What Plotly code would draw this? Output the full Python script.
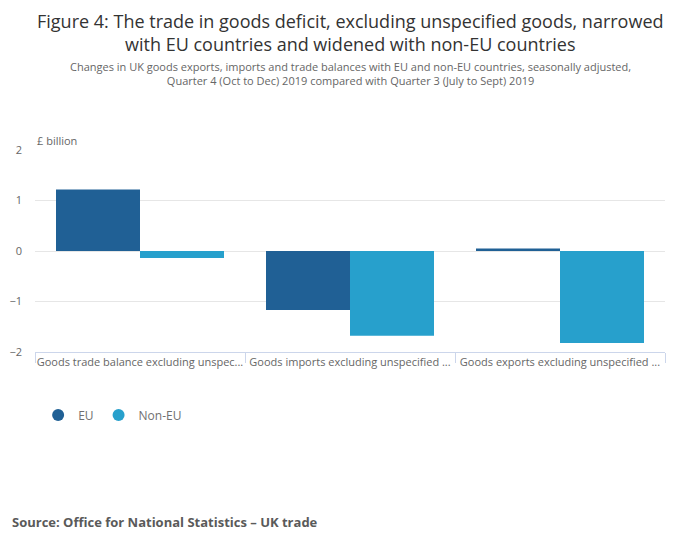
import plotly.graph_objects as go

categories = [
    "Goods trade balance excluding unspec...",
    "Goods imports excluding unspecified ...",
    "Goods exports excluding unspecified ...",
]
eu_values = [1.22, -1.17, 0.05]
non_eu_values = [-0.14, -1.68, -1.82]
y_ticks = [-2, -1, 0, 1, 2]

eu_colour = "#206095"
non_eu_colour = "#27a0cc"
grey = "#707070"
font = "Open Sans"

fig = go.Figure()

fig.add_trace(go.Bar(x=categories, y=eu_values, name="EU",
                     marker=dict(color=eu_colour, line=dict(width=0)),
                     showlegend=False))
fig.add_trace(go.Bar(x=categories, y=non_eu_values, name="Non-EU",
                     marker=dict(color=non_eu_colour, line=dict(width=0)),
                     showlegend=False))

# legend entries as round markers
for name, col in [("EU", eu_colour), ("Non-EU", non_eu_colour)]:
    fig.add_trace(go.Scatter(x=[None], y=[None], mode="markers", name=name,
                             marker=dict(color=col, size=12, symbol="circle")))

fig.update_layout(
    width=700, height=549,
    margin=dict(l=27, r=43, t=142, b=205),
    paper_bgcolor="white", plot_bgcolor="white",
    font=dict(family=font, color=grey, size=11),
    barmode="group", bargap=0.2, bargroupgap=0,
    legend=dict(orientation="h", x=0.005, y=-0.24, xanchor="left", yanchor="top",
                font=dict(size=12, color=grey)),
    xaxis=dict(type="category", showline=True, linecolor="#ccd6eb", linewidth=1,
               ticks="outside", tickson="boundaries", ticklen=10,
               tickcolor="#ccd6eb", showgrid=False, tickangle=0,
               automargin=False,
               tickfont=dict(size=11, color="#666666")),
    yaxis=dict(range=[-2, 2], tickvals=y_ticks, showgrid=True,
               gridcolor="#e6e6e6", zeroline=True, zerolinecolor="#e6e6e6",
               zerolinewidth=1, ticklabelstandoff=12, automargin=False,
               tickfont=dict(size=11, color="#666666")),
)

fig.add_annotation(
    text="Figure 4: The trade in goods deficit, excluding unspecified goods, narrowed<br>"
         "with EU countries and widened with non-EU countries",
    xref="paper", yref="paper", x=0.5, y=1.0, yshift=142, xanchor="center",
    yanchor="top", showarrow=False, align="center", borderpad=0,
    font=dict(size=18, color="#333333", family=font))
fig.add_annotation(
    text="Changes in UK goods exports, imports and trade balances with EU and non-EU countries, seasonally adjusted,<br>"
         "Quarter 4 (Oct to Dec) 2019 compared with Quarter 3 (July to Sept) 2019",
    xref="paper", yref="paper", x=0.5, y=1.0, yshift=93, xanchor="center",
    yanchor="top", showarrow=False, align="center",
    font=dict(size=11, color="#666666", family=font))
fig.add_annotation(
    text="£ billion", xref="paper", yref="paper", x=0, y=1.0, yshift=0,
    xanchor="left", yanchor="bottom", showarrow=False,
    font=dict(size=11, color="#666666", family=font))
fig.add_annotation(
    text="<b>Source: Office for National Statistics – UK trade</b>",
    xref="paper", yref="paper", x=0, xshift=-25, y=0, yshift=-170,
    xanchor="left", yanchor="middle", showarrow=False,
    font=dict(size=13, color="#5a5a5a", family=font))

fig.write_html("out.html")
